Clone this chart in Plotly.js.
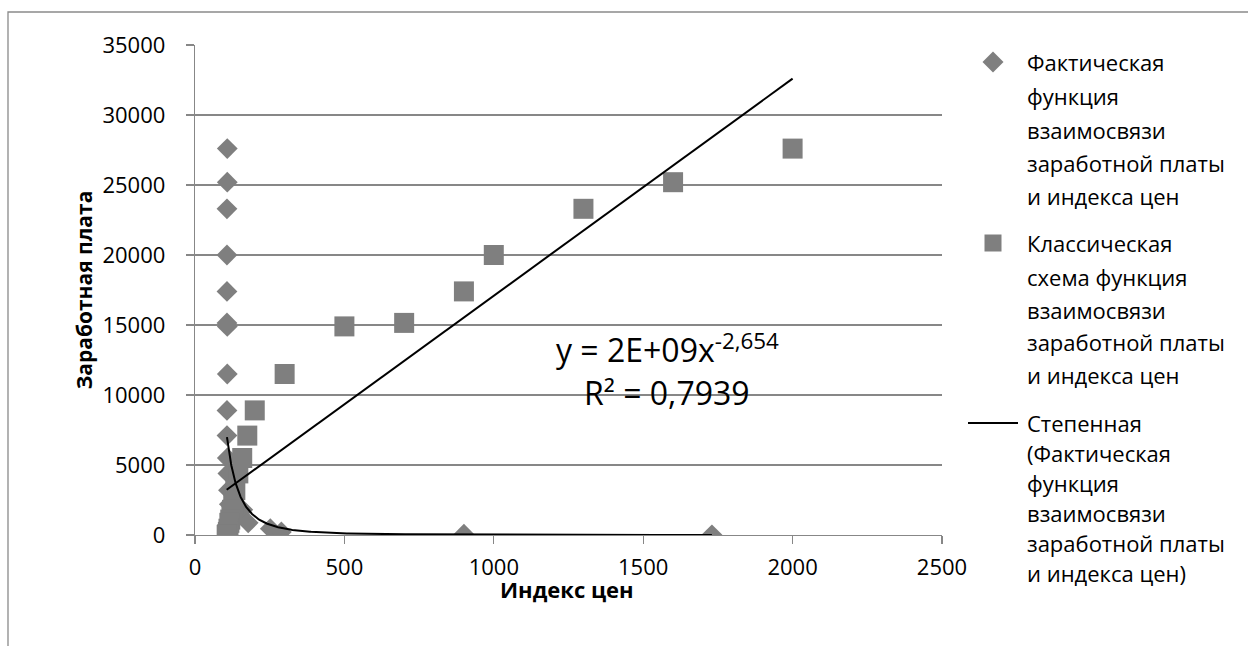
<!DOCTYPE html>
<html>
<head>
<meta charset="utf-8">
<script src="https://cdn.plot.ly/plotly-3.0.1.min.js"></script>
<style>
  html, body { margin: 0; padding: 0; background: #fff; }
  #chart { width: 1248px; height: 646px; }
</style>
</head>
<body>
<div id="chart"></div>
<script>
// Average wage values shared by both series
const wage = [27600, 25200, 23300, 20000, 17400, 15150, 14900, 11500, 8900, 7100,
              5500, 4400, 3200, 2200, 1800, 1500, 1100, 870, 450, 220, 60, 10];
// Price index: actual relationship
const actualIndex = [108, 108, 107, 107, 107, 107, 108, 108, 107, 107,
                     108, 110, 112, 115, 160, 118, 125, 178, 252, 289, 900, 1730];
// Price index: classical scheme
const classicIndex = [2000, 1600, 1300, 1000, 900, 700, 500, 300, 200, 175,
                      158, 145, 135, 128, 124, 122, 118, 115, 112, 110, 108, 106];

// Power trend of the actual series: y = a * x^b
const powerCoef = 1.7e9;
const powerExp = -2.654;
const powerLabel = 'y = 2E+09x<sup>-2,654</sup>';
const rSquaredLabel = 'R² = 0,7939';

const xTicks = [0, 500, 1000, 1500, 2000, 2500];
const yTicks = [0, 5000, 10000, 15000, 20000, 25000, 30000, 35000];

const seriesNames = [
  ['Фактическая', 'функция', 'взаимосвязи', 'заработной платы', 'и индекса цен'],
  ['Классическая', 'схема функция', 'взаимосвязи', 'заработной платы', 'и индекса цен'],
  ['Степенная', '(Фактическая', 'функция', 'взаимосвязи', 'заработной платы', 'и индекса цен)']
];
const xTitle = 'Индекс цен';
const yTitle = 'Заработная плата';

// Least-squares straight line through the classical series
function linearFit(xs, ys) {
  const n = xs.length;
  const mx = xs.reduce((s, v) => s + v, 0) / n;
  const my = ys.reduce((s, v) => s + v, 0) / n;
  let sxy = 0, sxx = 0;
  for (let i = 0; i < n; i++) {
    sxy += (xs[i] - mx) * (ys[i] - my);
    sxx += (xs[i] - mx) * (xs[i] - mx);
  }
  const slope = sxy / sxx;
  return { slope: slope, intercept: my - slope * mx };
}

const lin = linearFit(classicIndex, wage);
const linX = [Math.min(...classicIndex), Math.max(...classicIndex)];
const linY = linX.map(x => lin.intercept + lin.slope * x);

// Power curve sampled over the span of the actual series
const pMin = Math.min(...actualIndex), pMax = Math.max(...actualIndex);
const powX = [], powY = [];
for (let i = 0; i <= 300; i++) {
  const x = pMin * Math.pow(pMax / pMin, i / 300);
  powX.push(x);
  powY.push(powerCoef * Math.pow(x, powerExp));
}

const FONT = 'Open Sans, Noto Sans, sans-serif';
const GREY = '#7f7f7f';
const LINE_GREY = '#878787';

// Plot area geometry (pixels) used to place the side legend and labels
const M = { l: 195, r: 306, t: 45, b: 111 };
const W = 1248, H = 646;
const PW = W - M.l - M.r, PH = H - M.t - M.b;
const px = p => (p - M.l) / PW;
const py = p => (H - M.b - p) / PH;

const traces = [
  {
    type: 'scatter', mode: 'markers', name: seriesNames[0].join(' '),
    x: actualIndex, y: wage,
    marker: { symbol: 'diamond', size: 16, color: GREY }
  },
  {
    type: 'scatter', mode: 'markers', name: seriesNames[1].join(' '),
    x: classicIndex, y: wage,
    marker: { symbol: 'square', size: 20, color: GREY }
  },
  {
    type: 'scatter', mode: 'lines', name: seriesNames[2].join(' '),
    x: powX, y: powY,
    line: { color: '#000', width: 2 }
  },
  {
    type: 'scatter', mode: 'lines', name: 'linear',
    x: linX, y: linY,
    line: { color: '#000', width: 2 }
  }
];

// Side legend: one text row per line, symbol beside the first row
const legendRows = [
  [62, 96, 130, 163, 196],
  [243, 277, 310, 342, 375],
  [423, 453, 483, 513, 543, 573]
];
const LEG_SYM_X = 993, LEG_TEXT_X = 1025;

const annotations = [];
seriesNames.forEach((lines, k) => {
  lines.forEach((t, j) => {
    annotations.push({
      xref: 'paper', yref: 'paper', x: px(LEG_TEXT_X), y: py(legendRows[k][j]),
      xanchor: 'left', yanchor: 'middle', showarrow: false,
      text: t, font: { family: FONT, size: 22, color: '#000' }
    });
  });
});

annotations.push(
  {
    xref: 'paper', yref: 'paper', x: px(667), y: py(348),
    xanchor: 'center', yanchor: 'middle', showarrow: false,
    text: powerLabel, font: { family: FONT, size: 32, color: '#000' }
  },
  {
    xref: 'paper', yref: 'paper', x: px(667), y: py(392),
    xanchor: 'center', yanchor: 'middle', showarrow: false,
    text: rSquaredLabel, font: { family: FONT, size: 32, color: '#000' }
  },
  {
    xref: 'paper', yref: 'paper', x: px(567), y: py(589),
    xanchor: 'center', yanchor: 'middle', showarrow: false, borderpad: 0,
    text: '<b>' + xTitle + '</b>', font: { family: FONT, size: 22, color: '#000' }
  }
);

const shapes = [
  // outer chart frame
  {
    type: 'rect', xref: 'paper', yref: 'paper', layer: 'below',
    x0: px(8), x1: px(1400), y0: py(800), y1: py(12),
    line: { color: '#8a8a8a', width: 1.3 }, fillcolor: 'rgba(0,0,0,0)'
  },
  // legend symbols
  {
    type: 'path', xref: 'paper', yref: 'paper',
    xsizemode: 'pixel', ysizemode: 'pixel',
    xanchor: px(LEG_SYM_X), yanchor: py(legendRows[0][0]),
    path: 'M0,10.5 L10.5,0 L0,-10.5 L-10.5,0 Z',
    fillcolor: GREY, line: { width: 0 }
  },
  {
    type: 'path', xref: 'paper', yref: 'paper',
    xsizemode: 'pixel', ysizemode: 'pixel',
    xanchor: px(LEG_SYM_X), yanchor: py(legendRows[1][0]),
    path: 'M-8.5,-8.5 L8.5,-8.5 L8.5,8.5 L-8.5,8.5 Z',
    fillcolor: GREY, line: { width: 0 }
  },
  {
    type: 'line', xref: 'paper', yref: 'paper',
    x0: px(968), x1: px(1018), y0: py(legendRows[2][0]), y1: py(legendRows[2][0]),
    line: { color: '#000', width: 2 }
  }
];

const layout = {
  width: W, height: H,
  margin: M,
  paper_bgcolor: '#fff', plot_bgcolor: '#fff',
  font: { family: FONT, size: 22, color: '#000' },
  showlegend: false,
  xaxis: {
    range: [0, 2500], tickvals: xTicks, ticktext: xTicks.map(String),
    showgrid: false, zeroline: false,
    showline: true, linecolor: LINE_GREY, linewidth: 1.3,
    ticks: 'outside', ticklen: 8, tickcolor: LINE_GREY, tickwidth: 1.3,
    ticklabelstandoff: 4,
    tickfont: { family: FONT, size: 22 },
    fixedrange: true
  },
  yaxis: {
    range: [0, 35000], tickvals: yTicks, ticktext: yTicks.map(String),
    showgrid: true, gridcolor: LINE_GREY, gridwidth: 1.3,
    zeroline: false,
    showline: true, linecolor: LINE_GREY, linewidth: 1.3,
    ticks: 'outside', ticklen: 8, tickcolor: LINE_GREY, tickwidth: 1.3,
    ticklabelstandoff: 16,
    tickfont: { family: FONT, size: 22 },
    title: { text: '<b>' + yTitle + '</b>', font: { family: FONT, size: 21 }, standoff: 4 },
    fixedrange: true
  },
  shapes: shapes,
  annotations: annotations
};

Plotly.newPlot('chart', traces, layout, { displayModeBar: false, staticPlot: true });
</script>
</body>
</html>
